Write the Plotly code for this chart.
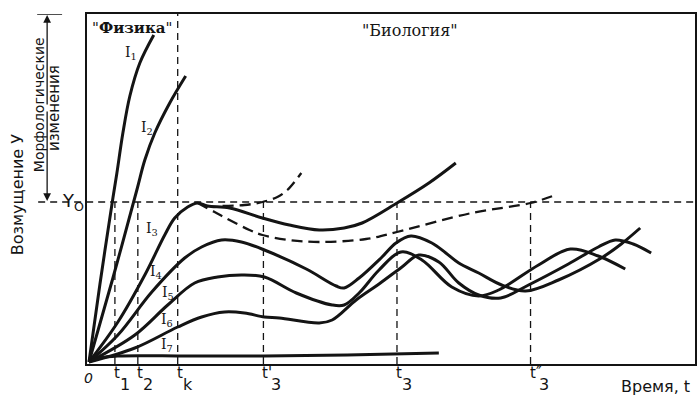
import plotly.graph_objects as go

# ---------------- data ----------------
Y0 = 162          # critical perturbation level Y0
T_MAX = 609
Y_MAX = 350

i1_t = [1, 12, 25, 29, 35, 42, 52, 66]
i1_y = [2, 80, 166, 191, 231, 268, 301, 329]

i2_t = [1, 25, 49, 57, 67, 82, 98]
i2_y = [2, 86, 174, 204, 231, 261, 288]

i3_t = [1, 30, 57, 77, 87, 100, 110, 120, 142, 175, 202, 232, 257, 275, 310, 342, 369]
i3_y = [2, 42, 89, 129, 146, 157, 161, 158, 156, 146, 139, 134, 136, 141, 161, 181, 201]

i3_up_t = [135, 157, 175, 190, 200, 214]
i3_up_y = [158, 159, 162, 167, 174, 191]

i3_low_t = [110, 127, 142, 162, 175, 202, 232, 279, 310, 385, 444, 469]
i3_low_y = [161, 152, 144, 134, 129, 124, 122, 125, 132, 151, 161, 169]

i4_t = [1, 30, 64, 97, 114, 134, 154, 177, 219, 249, 257, 272, 295, 309, 324, 345, 359, 372, 392, 415, 439, 472, 515, 535, 554]
i4_y = [2, 29, 72, 106, 117, 124, 122, 114, 95, 78, 76, 86, 107, 121, 128, 121, 111, 101, 91, 79, 73, 84, 106, 120, 136]

i5_t = [1, 47, 80, 107, 130, 154, 177, 209, 245, 257, 272, 292, 314, 335, 365, 392, 412, 452, 484, 512, 539]
i5_y = [2, 29, 59, 81, 87, 89, 87, 71, 59, 59, 71, 94, 112, 104, 77, 68, 74, 99, 115, 108, 95]

i6_t = [1, 47, 90, 114, 137, 157, 177, 192, 232, 245, 269, 292, 315, 332, 352, 372, 392, 414, 442, 482, 512, 529, 547, 565]
i6_y = [2, 16, 37, 47, 52, 51, 47, 46, 41, 44, 64, 80, 97, 109, 102, 81, 69, 66, 79, 100, 117, 124, 120, 111]

i7_t = [1, 12, 30, 100, 177, 260, 352]
i7_y = [2, 6, 8, 8, 8, 9, 11]

label_text = ["I<sub>1</sub>", "I<sub>2</sub>", "I<sub>3</sub>", "I<sub>4</sub>",
              "I<sub>5</sub>", "I<sub>6</sub>", "I<sub>7</sub>"]
label_t = [43, 59, 64, 68, 80, 79, 79]
label_y = [311, 236, 135, 92, 71, 44, 19]

guide_t = [27, 50, 90, 176, 310, 444]
guide_top = [Y0, Y0, Y_MAX, Y0, Y0, Y0]
tick_base = ["t", "t", "t", "t'", "t", "t\u2033"]
tick_sub = ["1", "2", "k", "3", "3", "3"]

# ---------------- figure ----------------
W, H = 698, 397
ML, MR, MT, MB = 87, 1, 14, 33
PW = W - ML - MR
PH = H - MT - MB


def px_to_paper_x(p):
    return (p - ML) / PW


def px_to_paper_y(p):
    return (H - MB - p) / PH


INK = "#141414"
fig = go.Figure()

# guide lines (thin dashed)
gx, gy = [], []
for t, top in zip(guide_t, guide_top):
    gx += [t, t, None]
    gy += [0, top, None]
fig.add_trace(go.Scatter(x=gx, y=gy, mode="lines",
                         line=dict(color=INK, width=1.3, dash="7px,5px"),
                         hoverinfo="skip", showlegend=False))

solid = [(i1_t, i1_y), (i2_t, i2_y), (i3_t, i3_y), (i4_t, i4_y),
         (i5_t, i5_y), (i6_t, i6_y), (i7_t, i7_y)]
for t, y in solid:
    fig.add_trace(go.Scatter(x=t, y=y, mode="lines",
                             line=dict(color=INK, width=3, shape="spline", smoothing=1.0),
                             hoverinfo="skip", showlegend=False))

for t, y in [(i3_up_t, i3_up_y), (i3_low_t, i3_low_y)]:
    fig.add_trace(go.Scatter(x=t, y=y, mode="lines",
                             line=dict(color=INK, width=2.3, shape="spline", smoothing=1.0,
                                       dash="11px,6px"),
                             hoverinfo="skip", showlegend=False))


def txt(x, y, text, size, family="DejaVu Sans", xref="paper", yref="paper", **kw):
    d = dict(x=x, y=y, xref=xref, yref=yref, text=text, showarrow=False,
             xanchor="center", yanchor="middle",
             font=dict(family=family, size=size, color=INK))
    d.update(kw)
    return d


annotations = []
for lt, t, y in zip(label_text, label_t, label_y):
    annotations.append(txt(t, y, lt, 14, family="DejaVu Serif", xref="x", yref="y"))

# tick labels under the time axis
for t, base, sub in zip(guide_t, tick_base, tick_sub):
    annotations.append(txt(t, px_to_paper_y(373), base, 15, xref="x",
                           xanchor="left", xshift=-3))
    annotations.append(txt(t, px_to_paper_y(384), sub, 16, xref="x",
                           xanchor="left", xshift=6 if base in ("t'", "t\u2033") else 3))
annotations.append(txt(0, px_to_paper_y(378), "<i>0</i>", 14, xref="x"))
annotations.append(txt(px_to_paper_x(657), px_to_paper_y(386), "Время, t", 16))

# region titles
annotations.append(txt(44, 336, "\"<b>Физика</b>\"", 15, family="DejaVu Serif",
                       xref="x", yref="y"))
annotations.append(txt(323, 334, "\"Биология\"", 16, family="DejaVu Serif",
                       xref="x", yref="y"))

# Y0 label
annotations.append(txt(px_to_paper_x(73), Y0, "Y<sub>O</sub>", 18, yref="y"))

# left-side titles
annotations.append(txt(px_to_paper_x(18), px_to_paper_y(194), "Возмущение У", 16,
                       textangle=-90))
annotations.append(txt(px_to_paper_x(39), px_to_paper_y(105), "Морфологические", 14,
                       textangle=-90))
annotations.append(txt(px_to_paper_x(54), px_to_paper_y(108), "изменения", 15,
                       textangle=-90))

# double arrow between the top border and Y0 (two half-arrows)
Y_MID = (Y_MAX + Y0) / 2
half_px = (Y_MAX - Y_MID) * PH / Y_MAX - 3
for y_tip, sign in [(Y_MAX - 1, 1), (Y0 + 1, -1)]:
    annotations.append(dict(x=px_to_paper_x(47), y=y_tip, xref="paper", yref="y",
                            ax=0, ay=sign * half_px, text="", showarrow=True,
                            arrowhead=2, arrowwidth=1.3, arrowsize=1.2, arrowcolor=INK))

shapes = [
    dict(type="line", xref="paper", yref="y", x0=px_to_paper_x(38), x1=1, y0=Y0, y1=Y0,
         line=dict(color=INK, width=1.3, dash="7px,5px")),
    dict(type="line", xref="paper", yref="y", x0=px_to_paper_x(37), x1=px_to_paper_x(62),
         y0=Y_MAX, y1=Y_MAX, line=dict(color=INK, width=1.5)),
]

fig.update_layout(
    width=W, height=H,
    margin=dict(l=ML, r=MR, t=MT, b=MB),
    paper_bgcolor="white", plot_bgcolor="white",
    showlegend=False,
    annotations=annotations,
    shapes=shapes,
    xaxis=dict(range=[-1, T_MAX], showgrid=False, zeroline=False, showticklabels=False,
               ticks="", showline=True, mirror=True, linecolor=INK, linewidth=2),
    yaxis=dict(range=[0, Y_MAX], showgrid=False, zeroline=False, showticklabels=False,
               ticks="", showline=True, mirror=True, linecolor=INK, linewidth=2),
)

fig.write_html("out.html")
